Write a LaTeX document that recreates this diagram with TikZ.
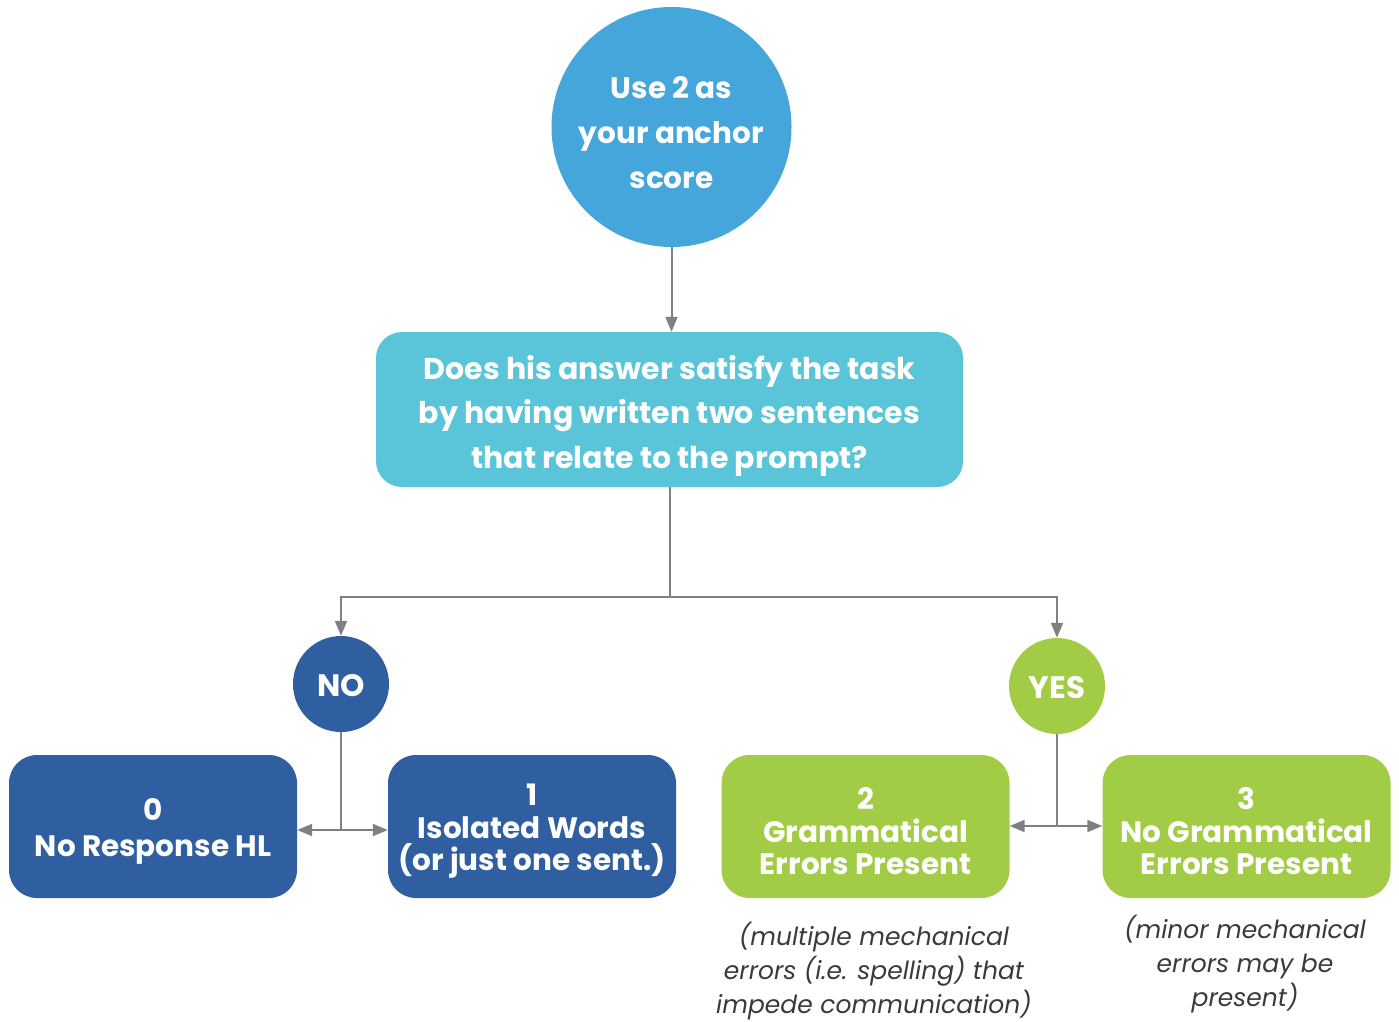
\documentclass[tikz,border=0pt]{standalone}
\usepackage{fontspec}
\setmainfont{Poppins}
\usetikzlibrary{arrows.meta}
\definecolor{topblue}{HTML}{45A6DC}
\definecolor{qcyan}{HTML}{5AC5D9}
\definecolor{dblue}{HTML}{2F5FA0}
\definecolor{lgreen}{HTML}{A2CC45}
\definecolor{conn}{HTML}{808082}
\definecolor{notegray}{HTML}{3A3A3A}
\tikzset{
  bigtxt/.style={text=white, font=\fontsize{29}{33}\selectfont\bfseries, align=center, inner sep=0pt},
  circ/.style={circle, inner sep=0pt},
  rbox/.style={rounded corners=28pt, minimum width=288pt, minimum height=143pt, inner sep=0pt},
  arr/.style={draw=conn, line width=2pt, -{Triangle[length=15pt,width=12pt]}},
  ln/.style={draw=conn, line width=2pt},
  note/.style={text=notegray, font=\fontsize{25}{34}\selectfont\itshape, align=center}
}
\begin{document}
\begin{tikzpicture}[x=1pt,y=-1pt]
\useasboundingbox (0,0) rectangle (1399,1021);
\node[circ, fill=topblue, minimum size=240pt,
  label={[bigtxt, font=\fontsize{29.5}{45}\selectfont\bfseries, yshift=-6pt]center:{Use 2 as\\your anchor\\score}}] (top) at (671.5,127) {};
\node[rbox, fill=qcyan, minimum width=587pt, minimum height=155pt, rounded corners=26pt,
  label={[bigtxt, font=\fontsize{30}{44.5}\selectfont\bfseries, yshift=-6pt]center:{Does his answer satisfy the task\\by having written two sentences\\that relate to the prompt?}}] (q) at (669.5,409.5) {};
\node[circ, fill=dblue, minimum size=96pt,
  label={[bigtxt, font=\fontsize{31}{33}\selectfont\bfseries, yshift=-2pt]center:NO}] (no) at (341,684) {};
\node[circ, fill=lgreen, minimum size=96pt,
  label={[bigtxt, font=\fontsize{31}{33}\selectfont\bfseries, yshift=-2pt]center:YES}] (yes) at (1057,686) {};
\node[rbox, fill=dblue,
  label={[bigtxt, font=\fontsize{29.5}{36}\selectfont\bfseries, yshift=-5pt]center:{0\\No Response HL}}] (b0) at (153,826.5) {};
\node[rbox, fill=dblue,
  label={[bigtxt, font=\fontsize{29.5}{32.5}\selectfont\bfseries, yshift=-5pt]center:{1\\Isolated Words\\(or just one sent.)}}] (b1) at (532,826.5) {};
\node[rbox, fill=lgreen,
  label={[bigtxt, font=\fontsize{29.5}{32.5}\selectfont\bfseries, yshift=-5pt]center:{2\\Grammatical\\Errors Present}}] (b2) at (865.5,826.5) {};
\node[rbox, fill=lgreen,
  label={[bigtxt, font=\fontsize{29.5}{32.5}\selectfont\bfseries, yshift=-5pt]center:{3\\No Grammatical\\Errors Present}}] (b3) at (1246.5,826.5) {};
\node[note] (n2) at (874,971) {(multiple mechanical\\errors (i.e. spelling) that\\impede communication)};
\node[note] (n3) at (1245,964) {(minor mechanical\\errors may be\\present)};
\draw[arr] (top.south) -- (top.south |- q.north);
\draw[ln] (q.south) -- ++(0,110) coordinate (split);
\draw[arr] (split) -| (no.north);
\draw[arr] (split) -| (yes.north);
\draw[ln] (no.south) -- (341,830) coordinate (nj);
\draw[arr] (nj) -- (nj -| b0.east);
\draw[arr] (nj) -- (nj -| b1.west);
\draw[ln] (yes.south) -- (1057,826) coordinate (yj);
\draw[arr] (yj) -- (yj -| b2.east);
\draw[arr] (yj) -- (yj -| b3.west);
\end{tikzpicture}
\end{document}
